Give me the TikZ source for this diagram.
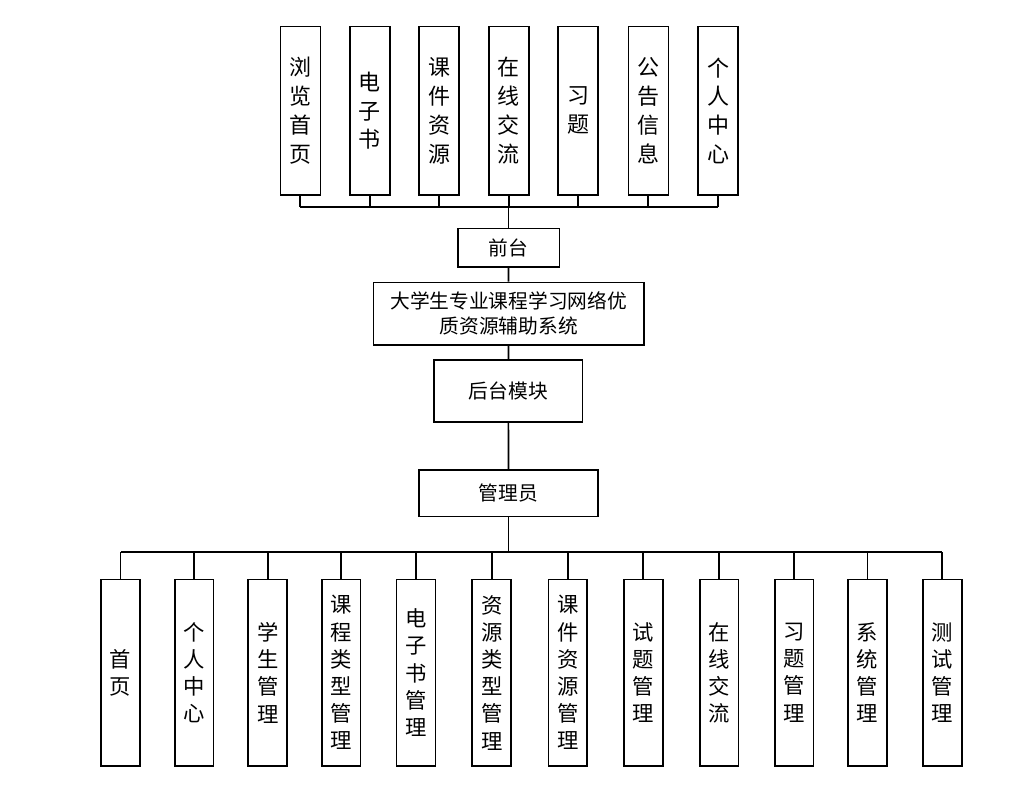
\documentclass[tikz,border=0pt]{standalone}
\usepackage{fontspec}
\newfontfamily\cjk{Noto Sans CJK SC}
\begin{document}
\begin{tikzpicture}[x=0.75pt,y=-0.75pt,
  box/.style={draw=black,line width=1.2pt,inner sep=0pt,align=center,fill=white},
  vtop/.style={box,minimum width=30pt,minimum height=126.2pt,font=\cjk\fontsize{16.5}{21.6}\selectfont},
  vbot/.style={box,minimum width=29.2pt,minimum height=140pt,font=\cjk\fontsize{16}{20.4}\selectfont},
  mid/.style={box,font=\cjk\fontsize{14.8}{18.8}\selectfont},
  link/.style={line width=1.3pt,black}]
\useasboundingbox (0,0) rectangle (1013,791);
% top row
\node[vtop] (t1) at (300.3,110.8) {浏\\览\\首\\页};
\node[vtop] (t2) at (369.7,110.8) {电\\子\\书};
\node[vtop] (t3) at (439.2,110.8) {课\\件\\资\\源};
\node[vtop] (t4) at (508.7,110.8) {在\\线\\交\\流};
\node[vtop] (t5) at (578.2,110.8) {习\\题};
\node[vtop] (t6) at (648.3,110.8) {公\\告\\信\\息};
\node[vtop] (t7) at (718.0,110.8) {个\\人\\中\\心};
\coordinate (topbus) at (0,206.7);
% middle
\node[mid,minimum width=76.2pt,minimum height=29.2pt] (qt) at (508.5,247.8) {前台};
\node[mid,minimum width=203pt,minimum height=47pt] (sys) at (508.7,313.7) {大学生专业课程学习网络优\\质资源辅助系统};
\node[mid,minimum width=111.5pt,minimum height=46.5pt] (ht) at (508.3,391) {后台模块};
\node[mid,minimum width=134.5pt,minimum height=35pt] (gly) at (508.5,493.3) {管理员};
\coordinate (botbus) at (0,551.7);
% bottom row
\node[vbot] (b1) at (120.5,672.7) {首\\页};
\node[vbot] (b2) at (194.2,672.7) {个\\人\\中\\心};
\node[vbot] (b3) at (267.7,672.7) {学\\生\\管\\理};
\node[vbot] (b4) at (341.2,672.7) {课\\程\\类\\型\\管\\理};
\node[vbot] (b5) at (416.0,672.7) {电\\子\\书\\管\\理};
\node[vbot] (b6) at (491.7,672.7) {资\\源\\类\\型\\管\\理};
\node[vbot] (b7) at (567.8,672.7) {课\\件\\资\\源\\管\\理};
\node[vbot] (b8) at (643.3,672.7) {试\\题\\管\\理};
\node[vbot] (b9) at (719.2,672.7) {在\\线\\交\\流};
\node[vbot] (b10) at (794.2,672.7) {习\\题\\管\\理};
\node[vbot] (b11) at (867.5,672.7) {系\\统\\管\\理};
\node[vbot] (b12) at (942.3,672.7) {测\\试\\管\\理};
% top connectors
\foreach \i in {1,...,7} {\draw[link] (t\i.south) -- (t\i.south |- topbus);}
\draw[link] (t1.south |- topbus) -- (t7.south |- topbus);
\draw[link] (qt.north) -- (qt.north |- topbus);
\draw[link] (qt) -- (sys);
\draw[link] (sys) -- (ht);
\draw[link] (ht) -- (gly);
% bottom connectors
\draw[link] (gly.south) -- (gly.south |- botbus);
\foreach \i in {1,...,12} {\draw[link] (b\i.north) -- (b\i.north |- botbus);}
\draw[link] (b1.north |- botbus) -- (b12.north |- botbus);
\end{tikzpicture}
\end{document}
